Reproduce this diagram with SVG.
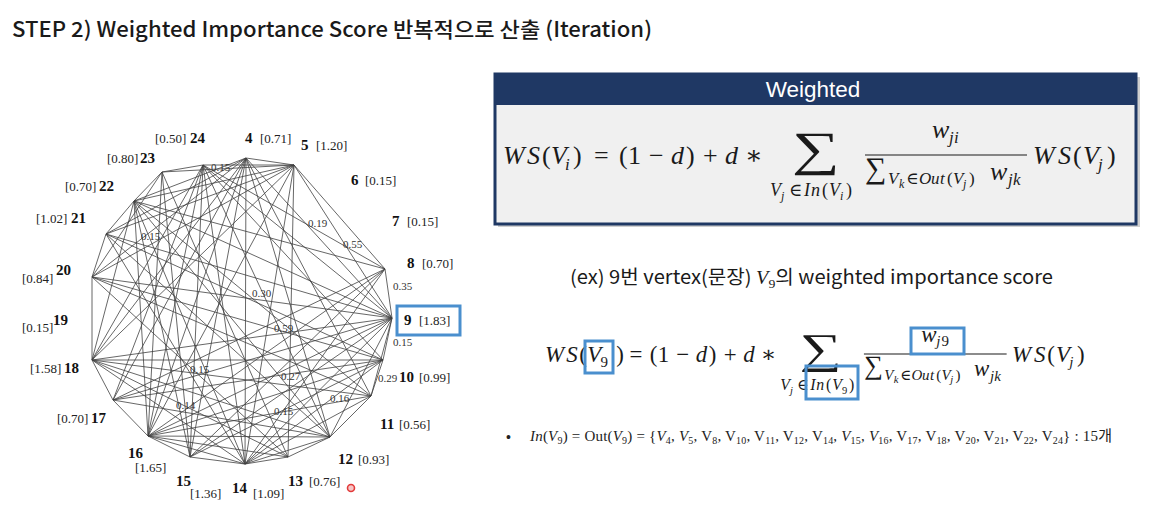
<svg xmlns="http://www.w3.org/2000/svg" width="1150" height="528" viewBox="0 0 1150 528">
<defs>
<style>
.edge{stroke:#404040;stroke-width:0.8;fill:none}
.ew{font-family:"Liberation Serif","DejaVu Serif",serif;font-size:11px;fill:#333}
.nb{font-family:"Liberation Serif","DejaVu Serif",serif;font-size:15px;font-weight:bold;fill:#111}
.ns{font-family:"Liberation Serif","DejaVu Serif",serif;font-size:13px;fill:#222}
.mt{font-family:"Liberation Serif","DejaVu Serif",serif;fill:#1a1a1a}
.it{font-style:italic}
.hl{fill:none;stroke:#4a8fce;stroke-width:3}
.bar{stroke:#1a1a1a;stroke-width:1.2}
.sans{font-family:"Noto Sans CJK KR","Noto Sans",sans-serif;fill:#1a1a1a}
</style>
</defs>
<rect width="1150" height="528" fill="#ffffff"/>
<text class="sans" x="12" y="37" font-size="21" font-weight="500" textLength="640" lengthAdjust="spacingAndGlyphs">STEP 2) Weighted Importance Score 반복적으로 산출 (Iteration)</text>

<g id="connectors">
<line class="edge" x1="246" y1="158" x2="294" y2="165"/>
<line class="edge" x1="246" y1="158" x2="392" y2="318"/>
<line class="edge" x1="246" y1="158" x2="245" y2="464"/>
<line class="edge" x1="246" y1="158" x2="190" y2="457"/>
<line class="edge" x1="246" y1="158" x2="148" y2="436"/>
<line class="edge" x1="246" y1="158" x2="113" y2="400"/>
<line class="edge" x1="246" y1="158" x2="92" y2="360"/>
<line class="edge" x1="246" y1="158" x2="92" y2="277"/>
<line class="edge" x1="246" y1="158" x2="106" y2="234"/>
<line class="edge" x1="246" y1="158" x2="134" y2="201"/>
<line class="edge" x1="246" y1="158" x2="330" y2="437"/>
<line class="edge" x1="246" y1="158" x2="371" y2="396"/>
<line class="edge" x1="294" y1="165" x2="385" y2="269"/>
<line class="edge" x1="294" y1="165" x2="392" y2="318"/>
<line class="edge" x1="294" y1="165" x2="203" y2="165"/>
<line class="edge" x1="294" y1="165" x2="162" y2="172"/>
<line class="edge" x1="294" y1="165" x2="134" y2="201"/>
<line class="edge" x1="294" y1="165" x2="106" y2="234"/>
<line class="edge" x1="294" y1="165" x2="92" y2="277"/>
<line class="edge" x1="294" y1="165" x2="92" y2="360"/>
<line class="edge" x1="294" y1="165" x2="148" y2="436"/>
<line class="edge" x1="294" y1="165" x2="245" y2="464"/>
<line class="edge" x1="294" y1="165" x2="288" y2="457"/>
<line class="edge" x1="385" y1="269" x2="392" y2="318"/>
<line class="edge" x1="385" y1="269" x2="203" y2="165"/>
<line class="edge" x1="385" y1="269" x2="134" y2="201"/>
<line class="edge" x1="385" y1="269" x2="113" y2="400"/>
<line class="edge" x1="385" y1="269" x2="148" y2="436"/>
<line class="edge" x1="385" y1="269" x2="190" y2="457"/>
<line class="edge" x1="385" y1="269" x2="245" y2="464"/>
<line class="edge" x1="392" y1="318" x2="383" y2="360"/>
<line class="edge" x1="392" y1="318" x2="371" y2="396"/>
<line class="edge" x1="392" y1="318" x2="330" y2="437"/>
<line class="edge" x1="392" y1="318" x2="245" y2="464"/>
<line class="edge" x1="392" y1="318" x2="190" y2="457"/>
<line class="edge" x1="392" y1="318" x2="148" y2="436"/>
<line class="edge" x1="392" y1="318" x2="113" y2="400"/>
<line class="edge" x1="392" y1="318" x2="92" y2="360"/>
<line class="edge" x1="392" y1="318" x2="92" y2="277"/>
<line class="edge" x1="392" y1="318" x2="106" y2="234"/>
<line class="edge" x1="392" y1="318" x2="134" y2="201"/>
<line class="edge" x1="392" y1="318" x2="203" y2="165"/>
<line class="edge" x1="383" y1="360" x2="371" y2="396"/>
<line class="edge" x1="383" y1="360" x2="92" y2="360"/>
<line class="edge" x1="383" y1="360" x2="203" y2="165"/>
<line class="edge" x1="383" y1="360" x2="106" y2="234"/>
<line class="edge" x1="383" y1="360" x2="92" y2="277"/>
<line class="edge" x1="383" y1="360" x2="113" y2="400"/>
<line class="edge" x1="383" y1="360" x2="148" y2="436"/>
<line class="edge" x1="383" y1="360" x2="245" y2="464"/>
<line class="edge" x1="383" y1="360" x2="190" y2="457"/>
<line class="edge" x1="371" y1="396" x2="330" y2="437"/>
<line class="edge" x1="371" y1="396" x2="92" y2="360"/>
<line class="edge" x1="371" y1="396" x2="134" y2="201"/>
<line class="edge" x1="371" y1="396" x2="92" y2="277"/>
<line class="edge" x1="371" y1="396" x2="148" y2="436"/>
<line class="edge" x1="371" y1="396" x2="245" y2="464"/>
<line class="edge" x1="330" y1="437" x2="288" y2="457"/>
<line class="edge" x1="330" y1="437" x2="148" y2="436"/>
<line class="edge" x1="330" y1="437" x2="245" y2="464"/>
<line class="edge" x1="330" y1="437" x2="203" y2="165"/>
<line class="edge" x1="330" y1="437" x2="134" y2="201"/>
<line class="edge" x1="330" y1="437" x2="106" y2="234"/>
<line class="edge" x1="330" y1="437" x2="92" y2="360"/>
<line class="edge" x1="330" y1="437" x2="113" y2="400"/>
<line class="edge" x1="288" y1="457" x2="245" y2="464"/>
<line class="edge" x1="288" y1="457" x2="92" y2="360"/>
<line class="edge" x1="288" y1="457" x2="92" y2="277"/>
<line class="edge" x1="288" y1="457" x2="148" y2="436"/>
<line class="edge" x1="288" y1="457" x2="162" y2="172"/>
<line class="edge" x1="245" y1="464" x2="190" y2="457"/>
<line class="edge" x1="245" y1="464" x2="203" y2="165"/>
<line class="edge" x1="245" y1="464" x2="134" y2="201"/>
<line class="edge" x1="245" y1="464" x2="106" y2="234"/>
<line class="edge" x1="245" y1="464" x2="92" y2="360"/>
<line class="edge" x1="245" y1="464" x2="148" y2="436"/>
<line class="edge" x1="190" y1="457" x2="148" y2="436"/>
<line class="edge" x1="190" y1="457" x2="203" y2="165"/>
<line class="edge" x1="190" y1="457" x2="134" y2="201"/>
<line class="edge" x1="190" y1="457" x2="162" y2="172"/>
<line class="edge" x1="148" y1="436" x2="113" y2="400"/>
<line class="edge" x1="148" y1="436" x2="203" y2="165"/>
<line class="edge" x1="148" y1="436" x2="162" y2="172"/>
<line class="edge" x1="148" y1="436" x2="134" y2="201"/>
<line class="edge" x1="113" y1="400" x2="92" y2="360"/>
<line class="edge" x1="113" y1="400" x2="203" y2="165"/>
<line class="edge" x1="92" y1="360" x2="92" y2="277"/>
<line class="edge" x1="92" y1="360" x2="134" y2="201"/>
<line class="edge" x1="92" y1="360" x2="203" y2="165"/>
<line class="edge" x1="92" y1="277" x2="106" y2="234"/>
<line class="edge" x1="92" y1="277" x2="162" y2="172"/>
<line class="edge" x1="106" y1="234" x2="134" y2="201"/>
<line class="edge" x1="134" y1="201" x2="162" y2="172"/>
<line class="edge" x1="162" y1="172" x2="203" y2="165"/>
</g>

<g id="edge-weights">
<text class="ew" x="211" y="171">0.15</text>
<text class="ew" x="141" y="240">0.15</text>
<text class="ew" x="308" y="227">0.19</text>
<text class="ew" x="343" y="248">0.55</text>
<text class="ew" x="393" y="290">0.35</text>
<text class="ew" x="252" y="297">0.30</text>
<text class="ew" x="274" y="332">0.59</text>
<text class="ew" x="393" y="346">0.15</text>
<text class="ew" x="190" y="373">0.15</text>
<text class="ew" x="281" y="380">0.27</text>
<text class="ew" x="378" y="382">0.29</text>
<text class="ew" x="330" y="402">0.16</text>
<text class="ew" x="176" y="409">0.14</text>
<text class="ew" x="274" y="415">0.15</text>
</g>

<g id="node-4"><text class="nb" x="245" y="143">4</text><text class="ns" x="260" y="143">[0.71]</text></g>
<g id="node-5"><text class="nb" x="301" y="150">5</text><text class="ns" x="316" y="150">[1.20]</text></g>
<g id="node-6"><text class="nb" x="351" y="185">6</text><text class="ns" x="365" y="185">[0.15]</text></g>
<g id="node-7"><text class="nb" x="392" y="226">7</text><text class="ns" x="407" y="226">[0.15]</text></g>
<g id="node-8"><text class="nb" x="407" y="268">8</text><text class="ns" x="422" y="268">[0.70]</text></g>
<g id="node-9"><rect class="hl" x="397" y="306" width="63" height="29"/><text class="nb" x="404" y="325">9</text><text class="ns" x="419" y="325">[1.83]</text></g>
<g id="node-10"><text class="nb" x="399" y="382">10</text><text class="ns" x="419" y="382">[0.99]</text></g>
<g id="node-11"><text class="nb" x="380" y="429">11</text><text class="ns" x="399" y="429">[0.56]</text></g>
<g id="node-12"><text class="nb" x="338" y="464">12</text><text class="ns" x="358" y="464">[0.93]</text></g>
<g id="node-13"><text class="nb" x="288" y="486">13</text><text class="ns" x="309" y="486">[0.76]</text></g>
<g id="node-14"><text class="nb" x="232" y="493">14</text><text class="ns" x="253" y="498">[1.09]</text></g>
<g id="node-15"><text class="nb" x="176" y="486">15</text><text class="ns" x="190" y="498">[1.36]</text></g>
<g id="node-16"><text class="nb" x="128" y="458">16</text><text class="ns" x="135" y="472">[1.65]</text></g>
<g id="node-17"><text class="ns" x="57" y="423">[0.70]</text><text class="nb" x="91" y="423">17</text></g>
<g id="node-18"><text class="ns" x="30" y="373">[1.58]</text><text class="nb" x="64" y="373">18</text></g>
<g id="node-19"><text class="ns" x="22" y="332">[0.15]</text><text class="nb" x="53" y="325">19</text></g>
<g id="node-20"><text class="ns" x="22" y="283">[0.84]</text><text class="nb" x="56" y="275">20</text></g>
<g id="node-21"><text class="ns" x="36" y="223">[1.02]</text><text class="nb" x="71" y="223">21</text></g>
<g id="node-22"><text class="ns" x="65" y="191">[0.70]</text><text class="nb" x="99" y="191">22</text></g>
<g id="node-23"><text class="ns" x="107" y="163">[0.80]</text><text class="nb" x="140" y="163">23</text></g>
<g id="node-24"><text class="ns" x="155" y="143">[0.50]</text><text class="nb" x="190" y="143">24</text></g>

<circle cx="351" cy="488" r="3.5" fill="#f7c6c6" stroke="#e23a3a" stroke-width="1.6"/>

<g id="weighted-box">
<rect x="498" y="77" width="642" height="150" fill="#cfcfcf"/>
<rect x="495" y="74" width="641" height="150" fill="#f0f0f0" stroke="#1f3864" stroke-width="3"/>
<rect x="495" y="74" width="641" height="31" fill="#1f3864"/>
<text x="813" y="97" text-anchor="middle" font-family="'Liberation Sans','Noto Sans',sans-serif" font-size="22.5" fill="#ffffff">Weighted</text>
</g>

<g id="formula-general">
<text class="mt" font-size="26" y="164"><tspan class="it" x="503 527">WS</tspan><tspan x="542">(</tspan><tspan class="it" x="551">V</tspan><tspan class="it" font-size="17" x="565" y="170">i</tspan><tspan x="573" y="164">)</tspan><tspan x="594">=</tspan><tspan x="619 628">(1</tspan><tspan x="649">−</tspan><tspan class="it" x="671">d</tspan><tspan x="686">)</tspan><tspan x="703">+</tspan><tspan class="it" x="725">d</tspan><tspan x="745">∗</tspan></text>
<text class="mt" font-size="48" transform="translate(792 165) scale(1.4 1)">∑</text>
<text class="mt" y="196" font-size="18"><tspan class="it" x="770">V</tspan><tspan class="it" font-size="12" x="781" y="200">j</tspan><tspan x="789" y="196">∈</tspan><tspan class="it" x="804 811">In</tspan><tspan x="822">(</tspan><tspan class="it" x="829">V</tspan><tspan class="it" font-size="12" x="840" y="200">i</tspan><tspan x="846" y="196">)</tspan></text>
<text class="mt" font-size="26" y="138"><tspan class="it" x="932">w</tspan><tspan class="it" font-size="17" x="949 954" y="143">ji</tspan></text>
<line class="bar" x1="865" y1="155" x2="1027" y2="155"/>
<text class="mt" x="865" y="178" font-size="30">∑</text>
<text class="mt" y="184" font-size="17"><tspan class="it" x="888">V</tspan><tspan class="it" font-size="12" x="899" y="188">k</tspan><tspan x="906" y="184">∈</tspan><tspan class="it" x="919 931 940">Out</tspan><tspan x="947">(</tspan><tspan class="it" x="953">V</tspan><tspan class="it" font-size="12" x="963" y="188">j</tspan><tspan x="969" y="184">)</tspan></text>
<text class="mt" font-size="26" y="180"><tspan class="it" x="990">w</tspan><tspan class="it" font-size="17" x="1008 1013" y="185">jk</tspan></text>
<text class="mt" font-size="26" y="164"><tspan class="it" x="1033 1058">WS</tspan><tspan x="1073">(</tspan><tspan class="it" x="1083">V</tspan><tspan class="it" font-size="17" x="1098" y="170">j</tspan><tspan x="1107" y="164">)</tspan></text>
</g>

<text class="sans" x="570" y="284" font-size="19" textLength="483" lengthAdjust="spacingAndGlyphs">(ex) 9번 vertex(문장) <tspan font-family="Liberation Serif" font-style="italic">V</tspan><tspan font-family="Liberation Serif" font-size="13" dy="4">9</tspan><tspan dy="-4">의 weighted importance score</tspan></text>

<g id="formula-example">
<g transform="translate(545 362) scale(0.881) translate(-503 -164)">
<text class="mt" font-size="26" y="164"><tspan class="it" x="503 527">WS</tspan><tspan x="542">(</tspan><tspan class="it" x="551">V</tspan><tspan font-size="17" x="566" y="170">9</tspan><tspan x="584" y="164">)</tspan><tspan x="599">=</tspan><tspan x="622 631">(1</tspan><tspan x="652">−</tspan><tspan class="it" x="674">d</tspan><tspan x="689">)</tspan><tspan x="706">+</tspan><tspan class="it" x="728">d</tspan><tspan x="748">∗</tspan></text>
<text class="mt" font-size="48" transform="translate(792 165) scale(1.4 1)">∑</text>
<text class="mt" y="196" font-size="18"><tspan class="it" x="770">V</tspan><tspan class="it" font-size="12" x="781" y="200">j</tspan><tspan x="789" y="196">∈</tspan><tspan class="it" x="804 811">In</tspan><tspan x="822">(</tspan><tspan class="it" x="829">V</tspan><tspan font-size="12" x="840" y="200">9</tspan><tspan x="848" y="196">)</tspan></text>
<text class="mt" font-size="26" y="141"><tspan class="it" x="930">w</tspan><tspan class="it" font-size="17" x="947" y="146">j</tspan><tspan font-size="17" x="953" y="146">9</tspan></text>
<line class="bar" x1="865" y1="155" x2="1027" y2="155"/>
<text class="mt" x="865" y="178" font-size="30">∑</text>
<text class="mt" y="184" font-size="17"><tspan class="it" x="888">V</tspan><tspan class="it" font-size="12" x="899" y="188">k</tspan><tspan x="906" y="184">∈</tspan><tspan class="it" x="919 931 940">Out</tspan><tspan x="947">(</tspan><tspan class="it" x="953">V</tspan><tspan class="it" font-size="12" x="963" y="188">j</tspan><tspan x="969" y="184">)</tspan></text>
<text class="mt" font-size="26" y="180"><tspan class="it" x="990">w</tspan><tspan class="it" font-size="17" x="1008 1013" y="185">jk</tspan></text>
<text class="mt" font-size="26" y="164"><tspan class="it" x="1033 1058">WS</tspan><tspan x="1073">(</tspan><tspan class="it" x="1083">V</tspan><tspan class="it" font-size="17" x="1098" y="170">j</tspan><tspan x="1107" y="164">)</tspan></text>
</g>
<rect class="hl" x="585" y="341" width="28" height="32"/>
<rect class="hl" x="911" y="328" width="53" height="26"/>
<rect class="hl" x="806" y="366" width="52" height="33"/>
</g>

<g id="bullet">
<text x="506" y="442" font-family="'Liberation Sans',sans-serif" font-size="14" fill="#222">•</text>
<text x="530" y="441" font-family="'Liberation Serif','Noto Sans CJK KR',serif" font-size="15" fill="#222" textLength="582" lengthAdjust="spacing"><tspan font-style="italic">In</tspan>(<tspan font-style="italic">V</tspan><tspan font-size="10" dy="3">9</tspan><tspan dy="-3">) = Out(</tspan><tspan font-style="italic">V</tspan><tspan font-size="10" dy="3">9</tspan><tspan dy="-3">) = {</tspan><tspan font-style="italic">V</tspan><tspan font-size="10" dy="3">4</tspan><tspan dy="-3">, </tspan><tspan font-style="italic">V</tspan><tspan font-size="10" dy="3">5</tspan><tspan dy="-3">, V</tspan><tspan font-size="10" dy="3">8</tspan><tspan dy="-3">, V</tspan><tspan font-size="10" dy="3">10</tspan><tspan dy="-3">, V</tspan><tspan font-size="10" dy="3">11</tspan><tspan dy="-3">, V</tspan><tspan font-size="10" dy="3">12</tspan><tspan dy="-3">, V</tspan><tspan font-size="10" dy="3">14</tspan><tspan dy="-3">, </tspan><tspan font-style="italic">V</tspan><tspan font-size="10" dy="3">15</tspan><tspan dy="-3">, </tspan><tspan font-style="italic">V</tspan><tspan font-size="10" dy="3">16</tspan><tspan dy="-3">, V</tspan><tspan font-size="10" dy="3">17</tspan><tspan dy="-3">, V</tspan><tspan font-size="10" dy="3">18</tspan><tspan dy="-3">, V</tspan><tspan font-size="10" dy="3">20</tspan><tspan dy="-3">, V</tspan><tspan font-size="10" dy="3">21</tspan><tspan dy="-3">, V</tspan><tspan font-size="10" dy="3">22</tspan><tspan dy="-3">, V</tspan><tspan font-size="10" dy="3">24</tspan><tspan dy="-3">} : 15개</tspan></text>
</g>
</svg>
